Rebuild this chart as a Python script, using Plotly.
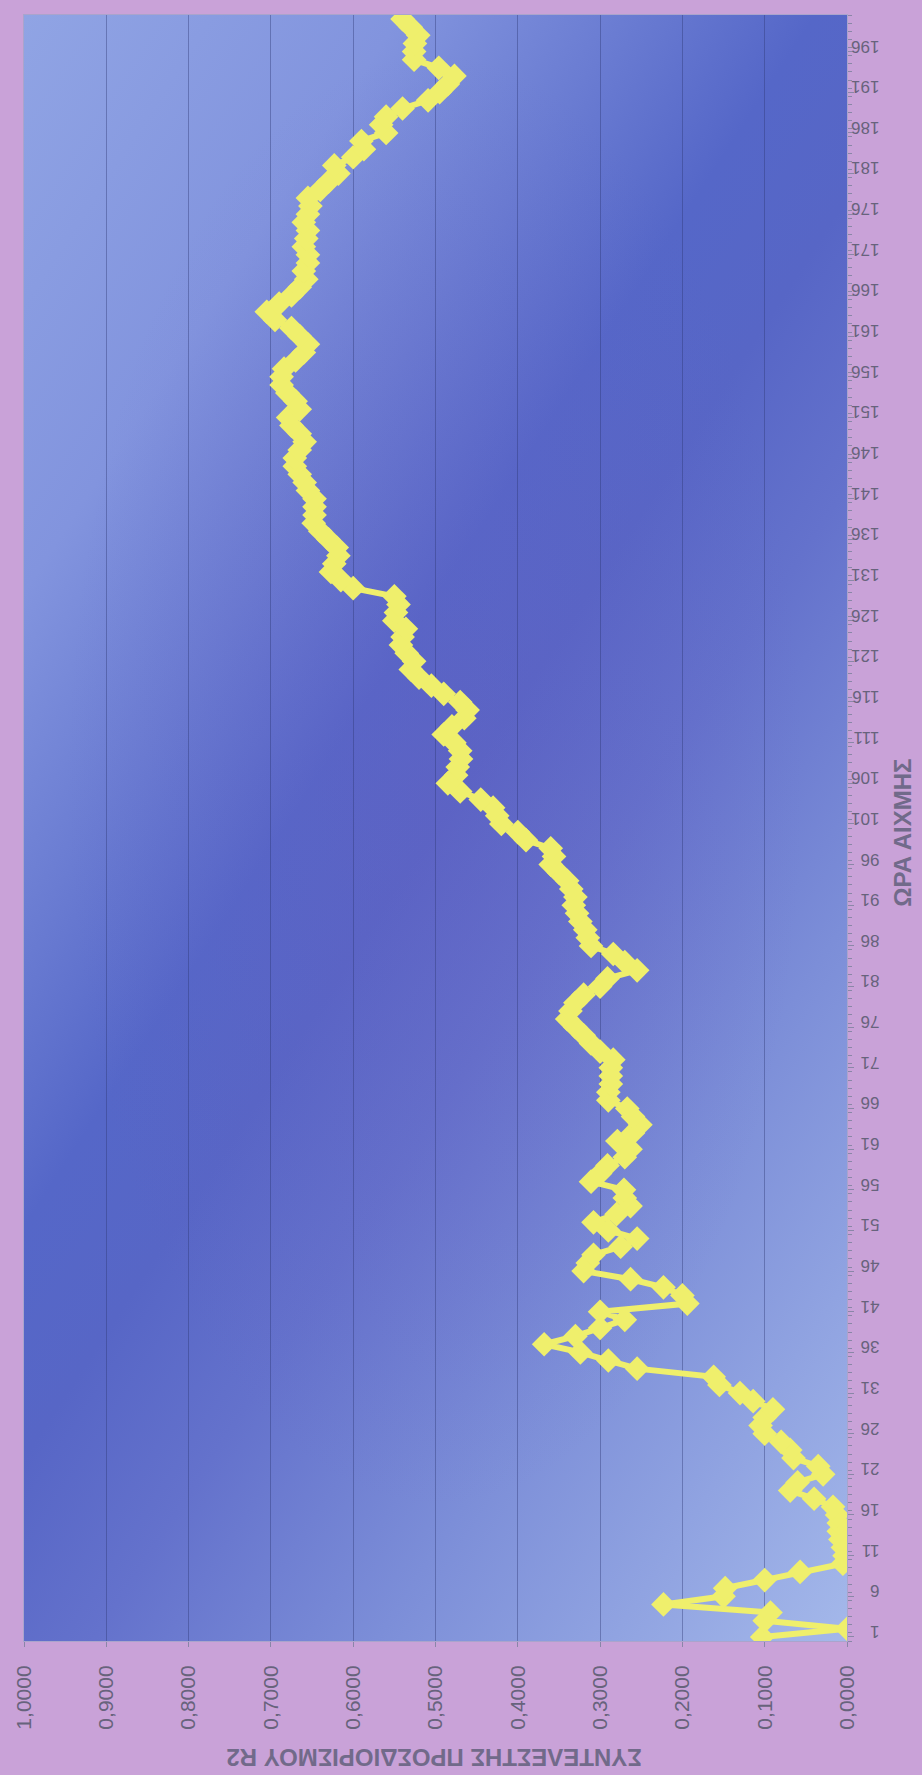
import base64
import plotly.graph_objects as go

# Peak hour index (1..200) and the coefficient of determination R2 for each hour
hours = list(range(1, 201))
r2 = [
    0.103, 0.000, 0.100, 0.093, 0.223, 0.150, 0.148, 0.100, 0.057, 0.005,
    0.003, 0.005, 0.008, 0.010, 0.010, 0.012, 0.017, 0.040, 0.069, 0.060,
    0.029, 0.035, 0.065, 0.069, 0.080, 0.100, 0.105, 0.100, 0.090, 0.114,
    0.130, 0.155, 0.162, 0.255, 0.290, 0.324, 0.368, 0.330, 0.300, 0.270,
    0.300, 0.194, 0.200, 0.223, 0.263, 0.320, 0.315, 0.308, 0.275, 0.255,
    0.290, 0.308, 0.280, 0.263, 0.270, 0.271, 0.311, 0.300, 0.291, 0.270,
    0.263, 0.279, 0.260, 0.251, 0.260, 0.267, 0.290, 0.290, 0.287, 0.287,
    0.287, 0.284, 0.300, 0.311, 0.320, 0.330, 0.340, 0.336, 0.330, 0.320,
    0.300, 0.291, 0.255, 0.270, 0.284, 0.311, 0.315, 0.318, 0.324, 0.328,
    0.332, 0.330, 0.335, 0.340, 0.350, 0.360, 0.356, 0.360, 0.390, 0.400,
    0.420, 0.425, 0.430, 0.445, 0.470, 0.485, 0.475, 0.473, 0.469, 0.470,
    0.477, 0.490, 0.480, 0.465, 0.461, 0.470, 0.490, 0.505, 0.520, 0.530,
    0.526, 0.535, 0.542, 0.540, 0.536, 0.550, 0.548, 0.545, 0.550, 0.600,
    0.615, 0.627, 0.623, 0.618, 0.620, 0.630, 0.640, 0.648, 0.647, 0.647,
    0.647, 0.655, 0.659, 0.665, 0.671, 0.671, 0.665, 0.659, 0.665, 0.675,
    0.679, 0.665, 0.670, 0.680, 0.687, 0.687, 0.684, 0.670, 0.660, 0.655,
    0.665, 0.675, 0.695, 0.705, 0.690, 0.675, 0.665, 0.657, 0.660, 0.655,
    0.655, 0.660, 0.657, 0.655, 0.660, 0.655, 0.652, 0.655, 0.640, 0.630,
    0.618, 0.623, 0.600, 0.587, 0.590, 0.560, 0.566, 0.560, 0.540, 0.509,
    0.495, 0.485, 0.477, 0.496, 0.526, 0.526, 0.525, 0.521, 0.530, 0.540,
]

hour_ticks = list(range(1, 200, 5))
r2_ticks = [0.0, 0.1, 0.2, 0.3, 0.4, 0.5, 0.6, 0.7, 0.8, 0.9, 1.0]

x_title = "ΣΥΝΤΕΛΕΣΤΗΣ ΠΡΟΣΔΙΟΡΙΣΜΟΥ R2"
y_title = "ΩΡΑ ΑΙΧΜΗΣ"

# Diagonal two-tone fill for the plot area, drawn as an SVG image under the grid
bg_svg = """<svg xmlns="http://www.w3.org/2000/svg" width="100" height="200"
 viewBox="0 0 100 200" preserveAspectRatio="none">
<defs>
<linearGradient id="g" gradientUnits="userSpaceOnUse" x1="0" y1="0" x2="161.7" y2="104.3">
<stop offset="0" stop-color="#90a4e4"/>
<stop offset="0.2" stop-color="#8294de"/>
<stop offset="0.32" stop-color="#6a7cd2"/>
<stop offset="0.42" stop-color="#5567c8"/>
<stop offset="0.5" stop-color="#5766c6"/>
<stop offset="0.6" stop-color="#6472cc"/>
<stop offset="0.75" stop-color="#7c8ed8"/>
<stop offset="1" stop-color="#a4b8ea"/>
</linearGradient>
<radialGradient id="r" cx="0.5" cy="0.47" r="0.45">
<stop offset="0" stop-color="#6a5cc0" stop-opacity="0.3"/>
<stop offset="1" stop-color="#6a5cc0" stop-opacity="0"/>
</radialGradient>
</defs>
<rect width="100" height="200" fill="url(#g)"/>
<rect width="100" height="200" fill="url(#r)"/>
</svg>"""
bg_uri = "data:image/svg+xml;base64," + base64.b64encode(bg_svg.encode()).decode()

label_color = "#67637c"
title_color = "#716a8a"
font_family = "Liberation Sans, Arial, sans-serif"

fig = go.Figure()
fig.add_trace(go.Scatter(
    x=r2, y=hours,
    mode="lines+markers",
    line=dict(color="#efef6c", width=6),
    marker=dict(symbol="diamond", size=19, color="#efef6c"),
    showlegend=False,
))

fig.update_layout(
    width=922, height=1775,
    margin=dict(l=22, r=75, t=15, b=134),
    paper_bgcolor="#c9a2d8",
    plot_bgcolor="rgba(0,0,0,0)",
    separators=",.",
    font=dict(family=font_family, color=label_color),
    images=[dict(
        source=bg_uri, xref="paper", yref="paper",
        x=0, y=1, sizex=1, sizey=1, sizing="stretch",
        xanchor="left", yanchor="top", layer="below",
    )],
    xaxis=dict(
        range=[1.0, 0.0],
        tickvals=r2_ticks, tickformat=".4f", tickangle=-90,
        tickfont=dict(size=21, color=label_color),
        ticklabelstandoff=10,
        showgrid=True, gridcolor="rgba(45,55,115,0.4)", gridwidth=1,
        zeroline=False,
        ticks="outside", ticklen=5, tickcolor="#8a86a8",
        showline=True, linecolor="#aaa4cc", linewidth=1, mirror=True,
    ),
    yaxis=dict(
        range=[0.5, 200.5], side="right",
        tickvals=hour_ticks, ticktext=[str(h) for h in hour_ticks],
        tickangle=180,
        tickfont=dict(size=17, color=label_color),
        ticklabelstandoff=22,
        showgrid=False, zeroline=False,
        ticks="outside", ticklen=6, tickcolor="#8a86a8",
        minor=dict(tickmode="linear", tick0=0.5, dtick=1,
                   ticks="outside", ticklen=4, tickcolor="#8a86a8"),
        showline=True, linecolor="#aaa4cc", linewidth=1, mirror=True,
    ),
    annotations=[
        dict(text="<b>" + x_title + "</b>", xref="paper", yref="paper",
             x=0.498, y=-0.0713,
             showarrow=False, textangle=180, xanchor="center", yanchor="middle",
             font=dict(size=24, color=title_color, family=font_family)),
        dict(text="<b>" + y_title + "</b>", xref="paper", yref="paper",
             x=1.068, y=0.497,
             showarrow=False, textangle=-90, xanchor="center", yanchor="middle",
             font=dict(size=24, color=title_color, family=font_family)),
    ],
)

fig.write_html("out.html")
